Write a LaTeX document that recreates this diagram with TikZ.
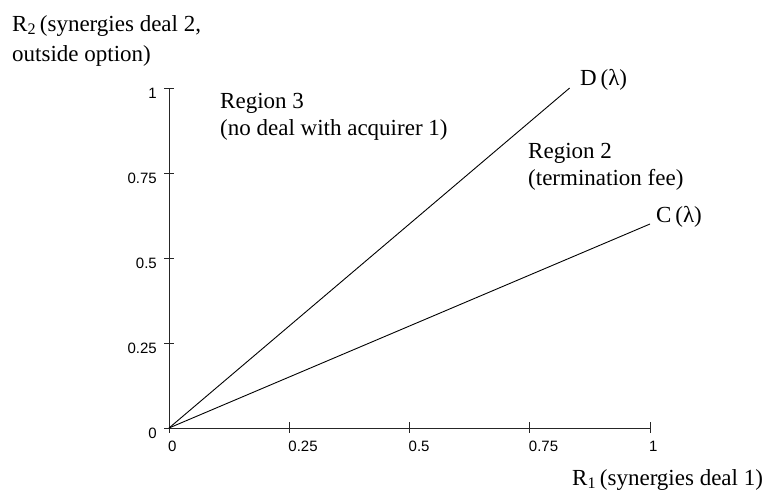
\documentclass[tikz,border=0pt]{standalone}
\usepackage{fontspec}
\setmainfont{Liberation Serif}
\newfontfamily\ticksfont{Liberation Sans}
\begin{document}
\begin{tikzpicture}[
  lbl/.style={inner sep=0pt, font=\fontsize{23}{27}\selectfont, align=left},
  ticklbl/.style={inner sep=0pt, font=\ticksfont\fontsize{15}{17}\selectfont},
  axisline/.style={line width=0.9pt, black!85},
  curve/.style={line width=0.9pt, black}
]
\useasboundingbox (0,0) rectangle (771pt,-492pt);
\begin{scope}[shift={(169pt,-428pt)}, x=481pt, y=340pt]
  \coordinate (O) at (0,0);
  \coordinate (Xend) at (1,0);
  \coordinate (Yend) at (0,1);
  \coordinate (Dend) at (0.833,1);
  \coordinate (Cend) at (1,0.6);
  \draw[axisline] (O) -- (Xend);
  \draw[axisline] (O) -- (Yend);
  \foreach \t/\n in {0/x0,0.25/x1,0.5/x2,0.75/x3,1/x4}{
    \coordinate (\n) at (\t,0);
    \draw[axisline] ([yshift=6pt]\n) -- ([yshift=-5pt]\n);
    \node[ticklbl, anchor=north west] (l\n) at ([yshift=-13pt,xshift=-1pt]\n) {\t};
  }
  \foreach \t/\n in {0/y0,0.25/y1,0.5/y2,0.75/y3,1/y4}{
    \coordinate (\n) at (0,\t);
    \draw[axisline] ([xshift=-5pt]\n) -- ([xshift=5pt]\n);
    \node[ticklbl, anchor=east] (l\n) at ([xshift=-12pt,yshift=-5pt]\n) {\t};
  }
  \draw[curve] (O) -- (Dend);
  \draw[curve] (O) -- (Cend);
\end{scope}
\node[lbl, anchor=west] (dlab) at (580pt,-80pt) {D\,(λ)};
\node[lbl, anchor=west] (clab) at (656pt,-217pt) {C\,(λ)};
\node[lbl, anchor=north west] (reg3) at (220pt,-93pt) {Region 3\\(no deal with acquirer 1)};
\node[lbl, anchor=north west] (reg2) at (528pt,-143pt) {Region 2\\(termination fee)};
\node[lbl, anchor=north west, font=\fontsize{23}{30}\selectfont] (ylab) at (12pt,-15pt) {R\textsubscript{2}\,(synergies deal 2,\\outside option)};
\node[lbl, anchor=base west] (xlab) at (572pt,-485pt) {R\textsubscript{1}\,(synergies deal 1)};
\end{tikzpicture}
\end{document}
